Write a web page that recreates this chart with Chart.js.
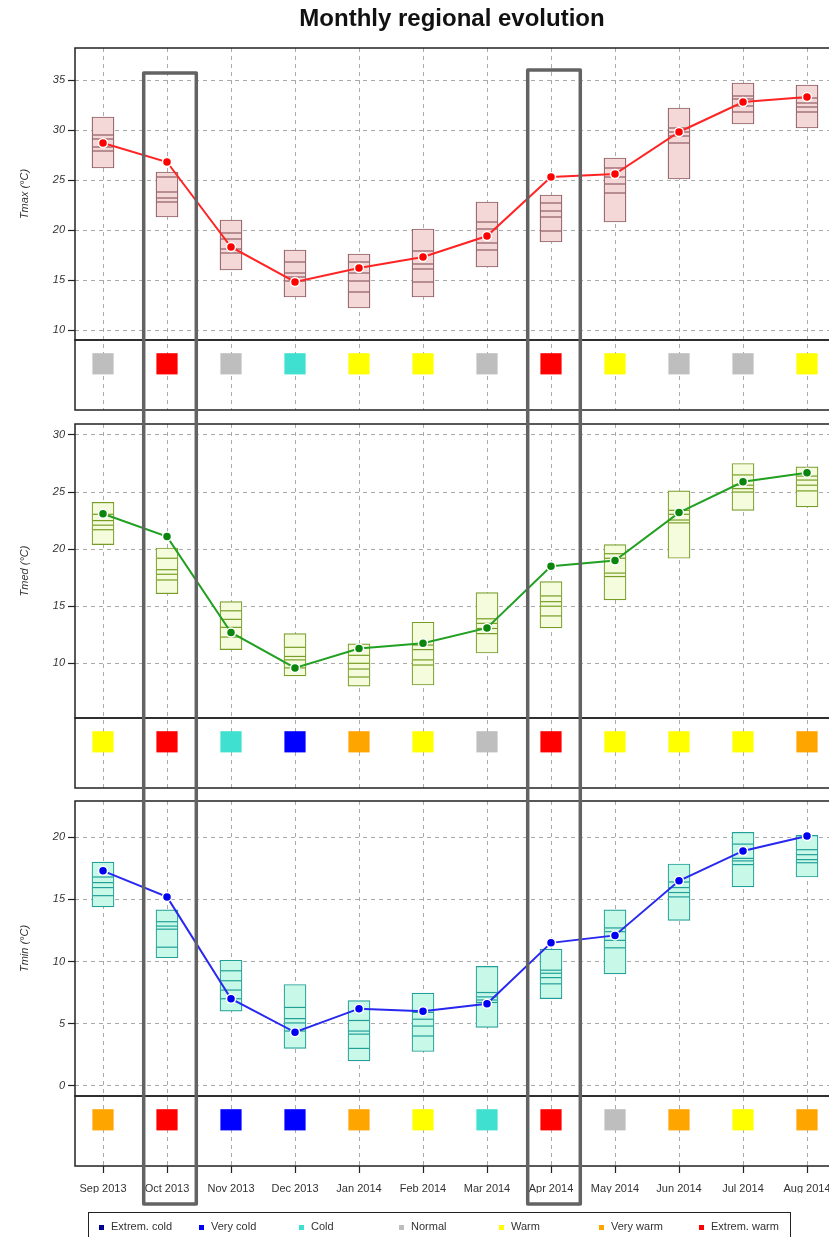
<!DOCTYPE html>
<html>
<head>
<meta charset="utf-8">
<script src="https://cdn.jsdelivr.net/npm/chart.js@4.4.1/dist/chart.umd.min.js"></script>
<style>
  html, body { margin: 0; padding: 0; background: #fff; overflow: hidden; }
  body { width: 829px; height: 1237px; position: relative; font-family: "Liberation Sans", Arial, sans-serif; }
  canvas.panel { position: absolute; left: 0; }
  #overlay { position: absolute; left: 0; top: 0; pointer-events: none; }
  #legend { position: absolute; left: 88px; top: 1212px; width: 703px; height: 32px; border: 1px solid #222; box-sizing: border-box; }
  #legend span { position: absolute; font-size: 11px; color: #333; top: 7px; white-space: nowrap; }
  #legend i { position: absolute; width: 5px; height: 5px; top: 12px; }
</style>
</head>
<body>
<canvas class="panel" id="chartMax" width="829" height="412" style="top:0"></canvas>
<canvas class="panel" id="chartMed" width="829" height="370" style="top:420px"></canvas>
<canvas class="panel" id="chartMin" width="829" height="400" style="top:797px"></canvas>
<canvas id="overlay" width="829" height="1237"></canvas>
<div id="legend"></div>

<script>
const FONT = '"Liberation Sans", Arial, sans-serif';

const months = ["Sep 2013", "Oct 2013", "Nov 2013", "Dec 2013", "Jan 2014", "Feb 2014",
                "Mar 2014", "Apr 2014", "May 2014", "Jun 2014", "Jul 2014", "Aug 2014"];
const highlighted = [1, 7];

const classNames = ["Extrem. cold", "Very cold", "Cold", "Normal", "Warm", "Very warm", "Extrem. warm"];
const classColors = ["#00008B", "#0000FF", "#40E0D0", "#BEBEBE", "#FFFF00", "#FFA500", "#FF0000"];

// Tmax
const tmaxTicks = [10, 15, 20, 25, 30, 35];
const tmaxMean = [28.7, 26.8, 18.3, 14.8, 16.2, 17.3, 19.4, 25.3, 25.6, 29.8, 32.8, 33.3];
const tmaxLow  = [26.2, 21.3, 16.0, 13.3, 12.2, 13.3, 16.3, 18.8, 20.8, 25.1, 30.6, 30.2];
const tmaxHigh = [31.3, 25.8, 21.0, 18.0, 17.6, 20.1, 22.8, 23.5, 27.2, 32.2, 34.7, 34.5];
const tmaxQ1 = [29.5, 25.3, 19.7, 16.8, 16.8, 17.9, 20.8, 22.7, 26.2, 30.2, 33.4, 33.2];
const tmaxQ2 = [29.1, 23.8, 19.1, 15.7, 15.7, 16.6, 20.1, 21.9, 25.3, 29.8, 33.1, 32.7];
const tmaxQ3 = [28.3, 23.2, 18.1, 15.3, 14.9, 16.1, 18.7, 21.3, 24.6, 29.4, 32.4, 32.3];
const tmaxQ4 = [27.9, 22.8, 17.7, 14.9, 13.8, 14.8, 18.0, 19.9, 23.7, 28.7, 31.8, 31.8];
const tmaxClass = [3, 6, 3, 2, 4, 4, 3, 6, 4, 3, 3, 4];

// Tmed
const tmedTicks = [10, 15, 20, 25, 30];
const tmedMean = [23.1, 21.1, 12.7, 9.6, 11.3, 11.75, 13.1, 18.5, 19.0, 23.2, 25.9, 26.7];
const tmedLow  = [20.4, 16.1, 11.2, 8.9, 8.0, 8.1, 10.9, 13.1, 15.55, 19.2, 23.4, 23.7];
const tmedHigh = [24.1, 20.1, 15.4, 12.6, 11.7, 13.6, 16.2, 17.15, 20.4, 25.1, 27.5, 27.2];
const tmedQ1 = [23.05, 19.2, 14.6, 11.4, 10.7, 11.6, 13.9, 15.9, 19.6, 23.4, 26.5, 26.4];
const tmedQ2 = [22.5, 18.2, 13.85, 10.6, 10.0, 11.2, 13.5, 15.4, 19.2, 23.05, 25.6, 26.05];
const tmedQ3 = [22.1, 17.8, 13.15, 10.3, 9.5, 10.3, 13.05, 15.0, 17.9, 22.55, 25.3, 25.6];
const tmedQ4 = [21.7, 17.3, 12.3, 9.6, 8.8, 9.85, 12.6, 14.15, 17.6, 22.3, 25.0, 25.1];
const tmedClass = [4, 6, 2, 1, 5, 4, 3, 6, 4, 4, 4, 5];

// Tmin
const tminTicks = [0, 5, 10, 15, 20];
const tminMean = [17.3, 15.2, 7.0, 4.3, 6.2, 6.0, 6.6, 11.5, 12.1, 16.5, 18.9, 20.1];
const tminLow  = [14.4, 10.3, 6.0, 3.0, 2.0, 2.75, 4.7, 7.0, 9.0, 13.3, 16.0, 16.8];
const tminHigh = [18.0, 14.15, 10.1, 8.15, 6.85, 7.45, 9.6, 11.0, 14.15, 17.85, 20.4, 20.15];
const tminQ1 = [16.8, 13.2, 9.25, 6.3, 5.25, 5.9, 7.5, 9.3, 12.7, 16.4, 19.45, 19.0];
const tminQ2 = [16.35, 12.85, 8.45, 5.4, 4.4, 5.35, 7.15, 9.05, 12.4, 15.95, 18.3, 18.6];
const tminQ3 = [15.95, 12.6, 7.7, 5.05, 4.15, 4.8, 6.9, 8.7, 11.7, 15.55, 18.1, 18.2];
const tminQ4 = [15.3, 11.15, 7.0, 4.4, 3.0, 4.0, 6.7, 8.2, 11.1, 15.2, 17.8, 17.95];
const tminClass = [5, 6, 1, 1, 5, 4, 2, 6, 3, 5, 4, 5];

Chart.defaults.font.family = FONT;

const xy = arr => arr.map((v, i) => ({ x: i, y: v }));

// frame around plot and class strip
const panelFrame = {
  id: 'panelFrame',
  beforeDatasetsDraw(chart) {
    const { ctx, chartArea } = chart;
    const y = chart.scales.y, s = chart.scales.strip;
    const w = chartArea.right - chartArea.left + 10;
    ctx.save();
    ctx.strokeStyle = '#222';
    ctx.lineWidth = 1.5;
    ctx.strokeRect(chartArea.left, y.top, w, y.bottom - y.top);
    ctx.strokeRect(chartArea.left, s.top, w, s.bottom - s.top);
    ctx.restore();
  }
};

function buildPanel(id, p) {
  const quantSets = p.quant.map(q => ({
    type: 'line', data: xy(q), showLine: false, yAxisID: 'y',
    pointStyle: 'line', pointRadius: 10.3,
    pointBorderColor: p.edge, pointBackgroundColor: p.edge, pointBorderWidth: 1.2
  }));
  return new Chart(document.getElementById(id), {
    type: 'bar',
    data: {
      datasets: [
        {
          type: 'line', data: xy(p.mean), yAxisID: 'y',
          borderColor: p.line, borderWidth: 2,
          pointRadius: 4.5, pointBackgroundColor: p.dot,
          pointBorderColor: '#fff', pointBorderWidth: 1.5
        },
        ...quantSets,
        {
          type: 'bar', yAxisID: 'y',
          data: p.low.map((v, i) => ({ x: i, y: [v, p.high[i]] })),
          backgroundColor: p.fill, borderColor: p.edge, borderWidth: 1.2,
          borderSkipped: false, barThickness: 22
        },
        {
          type: 'line', yAxisID: 'strip', showLine: false,
          data: p.cls.map((c, i) => ({ x: i, y: 0.66 })),
          pointStyle: 'rect', pointRadius: 15, pointBorderWidth: 0,
          pointBackgroundColor: p.cls.map(c => classColors[c])
        }
      ]
    },
    options: {
      responsive: false,
      animation: false,
      events: [],
      layout: { padding: p.padding, autoPadding: false },
      plugins: {
        legend: { display: false },
        tooltip: { enabled: false },
        title: p.title ? {
          display: true, text: p.title, fullSize: false, color: '#111',
          font: { size: 24, weight: 'bold' }, padding: { top: 5, bottom: 14.2 }
        } : { display: false }
      },
      scales: {
        x: {
          type: 'linear', min: -0.4375, max: 11.34375, offset: false,
          afterBuildTicks: s => { s.ticks = months.map((m, i) => ({ value: i })); },
          afterFit: s => {
            s.height = p.showX ? 27 : 0;
            s.paddingLeft = 0; s.paddingRight = 0;
          },
          ticks: {
            display: p.showX, autoSkip: false, maxRotation: 0, padding: 9,
            color: '#333', font: { size: 11 },
            callback: v => months[v]
          },
          grid: {
            offset: false, color: '#aaa', drawTicks: p.showX, tickLength: 7,
            tickColor: '#222', tickWidth: 1.2, tickBorderDash: []
          },
          border: { display: false, dash: [4, 4] }
        },
        // left boxes are stacked in reverse order: strip first puts it below the plot
        strip: {
          type: 'linear', position: 'left', stack: 'panel', stackWeight: 70,
          min: 0, max: 1,
          afterFit: s => { s.width = 75; s.paddingTop = 0; s.paddingBottom = 0; },
          ticks: { display: false },
          grid: { display: false },
          border: { display: false }
        },
        y: {
          type: 'linear', position: 'left', stack: 'panel', stackWeight: p.plotH,
          min: p.min, max: p.max,
          afterBuildTicks: s => { s.ticks = p.ticks.map(v => ({ value: v })); },
          afterFit: s => { s.width = 75; s.paddingTop = 0; s.paddingBottom = 0; },
          ticks: { color: '#333', padding: 3, font: { size: 11, style: 'italic' } },
          grid: { color: '#aaa', tickLength: 7, tickColor: '#222', tickWidth: 1.2, tickBorderDash: [] },
          border: { display: false, dash: [4, 4] },
          title: {
            display: true, text: p.label, color: '#333',
            font: { size: 11, style: 'italic' }, padding: { top: 18, bottom: 0 }
          }
        }
      }
    },
    plugins: [panelFrame]
  });
}

const chartMax = buildPanel('chartMax', {
  title: 'Monthly regional evolution', label: 'Tmax (°C)',
  min: 9, max: 38.2, ticks: tmaxTicks, plotH: 292,
  mean: tmaxMean, low: tmaxLow, high: tmaxHigh,
  quant: [tmaxQ1, tmaxQ2, tmaxQ3, tmaxQ4], cls: tmaxClass,
  line: '#FF2424', dot: '#FF0000', fill: '#F4D8D8', edge: '#8E5C63',
  padding: { top: 0, bottom: 2, left: 0, right: 0 }, showX: false
});

const chartMed = buildPanel('chartMed', {
  label: 'Tmed (°C)',
  min: 5.21, max: 30.96, ticks: tmedTicks, plotH: 294,
  mean: tmedMean, low: tmedLow, high: tmedHigh,
  quant: [tmedQ1, tmedQ2, tmedQ3, tmedQ4], cls: tmedClass,
  line: '#22A022', dot: '#0B850B', fill: '#F4FCDD', edge: '#789D26',
  padding: { top: 4, bottom: 2, left: 0, right: 0 }, showX: false
});

const chartMin = buildPanel('chartMin', {
  label: 'Tmin (°C)',
  min: -0.83, max: 22.92, ticks: tminTicks, plotH: 295,
  mean: tminMean, low: tminLow, high: tminHigh,
  quant: [tminQ1, tminQ2, tminQ3, tminQ4], cls: tminClass,
  line: '#2828F0', dot: '#0000F0', fill: '#C8F8E8', edge: '#22A098',
  padding: { top: 4, bottom: 4, left: 0, right: 0 }, showX: true
});

// highlighted months: frames running through all three panels
(function drawHighlights() {
  const ctx = document.getElementById('overlay').getContext('2d');
  const xs = chartMin.scales.x;
  const tops = [73, 70];
  ctx.strokeStyle = '#636363';
  ctx.lineWidth = 3.5;
  ctx.lineJoin = 'round';
  highlighted.forEach((m, k) => {
    const cx = xs.getPixelForValue(m) + 3;
    ctx.strokeRect(cx - 26.3, tops[k], 52.6, 1204 - tops[k]);
  });
})();

// legend of anomaly classes
(function buildLegend() {
  const box = document.getElementById('legend');
  classNames.forEach((name, i) => {
    const mark = document.createElement('i');
    mark.style.left = (10 + 100 * i) + 'px';
    mark.style.background = classColors[i];
    const txt = document.createElement('span');
    txt.style.left = (22 + 100 * i) + 'px';
    txt.textContent = name;
    box.appendChild(mark);
    box.appendChild(txt);
  });
})();
</script>
</body>
</html>
